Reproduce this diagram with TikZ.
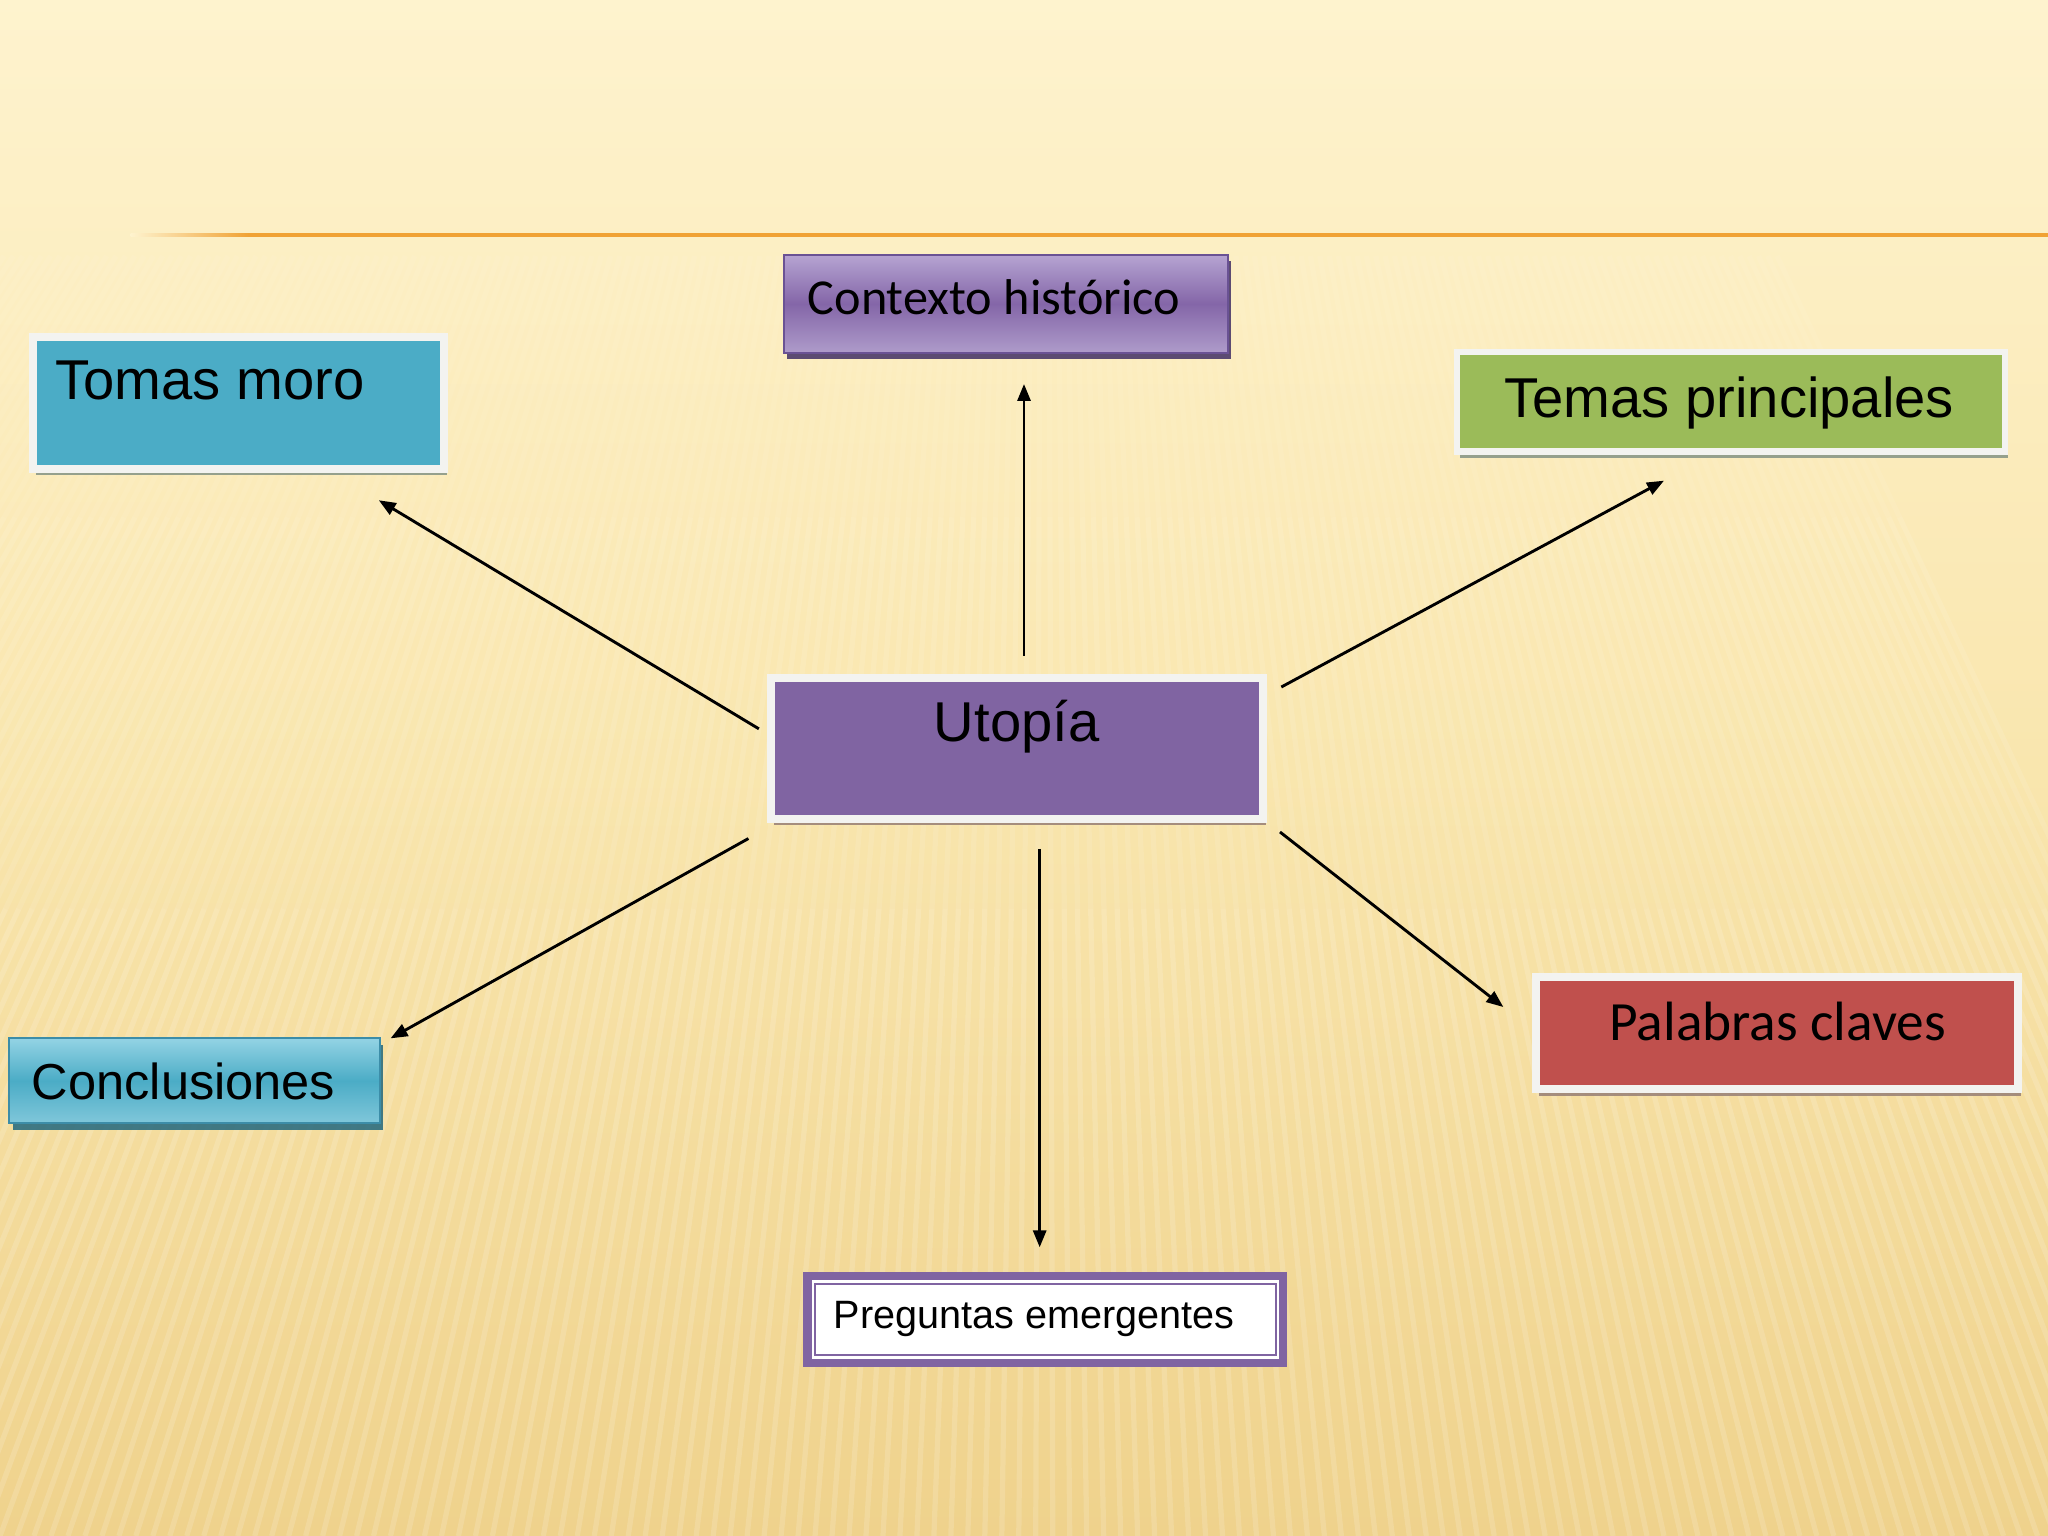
\documentclass[tikz,border=0pt]{standalone}
\usepackage{fontspec}
\setmainfont{Liberation Sans}
\newfontfamily\calib{Carlito}
\usetikzlibrary{arrows.meta,shadows}
\definecolor{bgtop}{HTML}{FEF3CE}
\definecolor{bgmid}{HTML}{F9E6AE}
\definecolor{bgbot}{HTML}{EFD28C}
\definecolor{orng}{HTML}{F0A235}
\definecolor{tmblue}{HTML}{4BACC6}
\definecolor{tmgreen}{HTML}{9BBB59}
\definecolor{tmred}{HTML}{C0504D}
\definecolor{tmpurple}{HTML}{8064A2}
\definecolor{framew}{HTML}{F3F3F0}
\definecolor{lavtop}{HTML}{B6A4D2}
\definecolor{lavbot}{HTML}{AE9BCA}
\definecolor{lavdark}{HTML}{8466A8}
\definecolor{lavedge}{HTML}{6A5294}
\definecolor{lavshadow}{HTML}{4B3A6A}
\definecolor{cyantop}{HTML}{93D3E4}
\definecolor{cyanbot}{HTML}{80C7DA}
\definecolor{cyanedge}{HTML}{3C8DA8}
\definecolor{cyanshadow}{HTML}{2D6E80}
\definecolor{shgreen}{HTML}{8A9888}
\definecolor{shbrown}{HTML}{9C8478}
\tikzset{
  frm/.style={draw=framew, line width=3pt, inner sep=0pt},
  grshadow/.style={drop shadow={shadow xshift=1.3pt, shadow yshift=-2.4pt, fill=#1, opacity=0.9}},
  arr/.style={draw=black, line width=1.1pt, -{Triangle[length=6.5pt,width=5pt]}},
  lbl/.style={inner sep=0pt, text=black},
}
\begin{document}
\begin{tikzpicture}[x=0.5pt,y=-0.5pt]
\useasboundingbox (0,0) rectangle (1568,1176);
% background
\shade[top color=bgtop, bottom color=bgbot, middle color=bgmid] (0,0) rectangle (1568,1176);
\foreach \i in {-70,...,140}{
  \pgfmathsetmacro{\xb}{\i*13}
  \pgfmathsetmacro{\xa}{\xb+(800-\xb)*0.2206}
  \pgfmathsetmacro{\xc}{\xb+(800-\xb)*0.3585}
  \pgfmathsetmacro{\xd}{\xb+(800-\xb)*0.4504}
  \draw[white, opacity=0.15, line width=2pt] (\xb,1176) -- (\xa,696);
  \draw[white, opacity=0.10, line width=2pt] (\xa,696) -- (\xc,396);
  \draw[white, opacity=0.06, line width=2pt] (\xc,396) -- (\xd,196);
}
% orange rule
\shade[left color=bgtop, right color=orng] (100,178.6) rectangle (190,181.4);
\fill[orng] (190,178.6) rectangle (1568,181.4);

% boxes
\node[frm, fill=tmblue, minimum width=157.5pt, minimum height=50.5pt, grshadow=shgreen] (tomas) at (182.5,308.5) {};
\node[lbl, anchor=base west, font=\fontsize{21.5pt}{26pt}\selectfont] (tomast) at (42,306) {Tomas moro};

\node[draw=lavedge, line width=0.8pt, inner sep=0pt, top color=lavtop, bottom color=lavbot, middle color=lavdark, minimum width=170pt, minimum height=37.5pt, grshadow=lavshadow] (ctx) at (770,232.5) {};
\node[lbl, anchor=base west, font=\calib\fontsize{19.25pt}{23pt}\selectfont] (ctxt) at (618,241) {Contexto histórico};

\node[frm, line width=2.5pt, fill=tmgreen, minimum width=209.75pt, minimum height=38pt, grshadow=shgreen] (temas) at (1325.25,307.5) {};
\node[lbl, anchor=base west, font=\fontsize{21.5pt}{26pt}\selectfont] (temast) at (1151.5,320) {Temas principales};

\node[frm, fill=tmpurple, minimum width=188.5pt, minimum height=54pt, grshadow=shbrown] (utopia) at (778.5,573) {};
\node[lbl, anchor=base, font=\fontsize{21.5pt}{26pt}\selectfont] (utopiat) at (778.4,568) {Utopía};

\node[draw=cyanedge, line width=0.8pt, inner sep=0pt, top color=cyantop, bottom color=cyanbot, middle color=tmblue, minimum width=142pt, minimum height=32.5pt, grshadow=cyanshadow] (concl) at (149,827.5) {};
\node[lbl, anchor=base west, font=\fontsize{19.35pt}{23pt}\selectfont] (conclt) at (24,841.7) {Conclusiones};

\node[frm, fill=tmred, minimum width=184.5pt, minimum height=43pt, grshadow=shbrown] (palabras) at (1360.5,791) {};
\node[lbl, anchor=base, font=\calib\fontsize{21.2pt}{25pt}\selectfont] (palabrast) at (1361,797) {Palabras claves};

\node[draw=tmpurple, line width=3.1pt, fill=white, inner sep=0pt, minimum width=182pt, minimum height=33pt] (preg) at (800.25,1010.25) {};
\node[draw=tmpurple, line width=0.8pt, inner sep=0pt, minimum width=176.5pt, minimum height=27.25pt] (pregin) at (800.5,1010.25) {};
\node[lbl, anchor=base west, font=\fontsize{15.15pt}{18pt}\selectfont] (pregt) at (638,1017) {Preguntas emergentes};

% connector ends
\coordinate (s1) at (581,558);  \coordinate (e1) at (290,383);
\coordinate (s2) at (784,502);  \coordinate (e2) at (784,294);
\coordinate (s3) at (981,526);  \coordinate (e3) at (1274,368);
\coordinate (s4) at (573,642);  \coordinate (e4) at (299,795);
\coordinate (s5) at (796,650);  \coordinate (e5) at (796,955);
\coordinate (s6) at (980,637);  \coordinate (e6) at (1151,771);
\draw[arr] (s1) -- (e1);
\draw[arr] (s2) -- (e2);
\draw[arr] (s3) -- (e3);
\draw[arr] (s4) -- (e4);
\draw[arr] (s5) -- (e5);
\draw[arr] (s6) -- (e6);
\end{tikzpicture}
\end{document}
